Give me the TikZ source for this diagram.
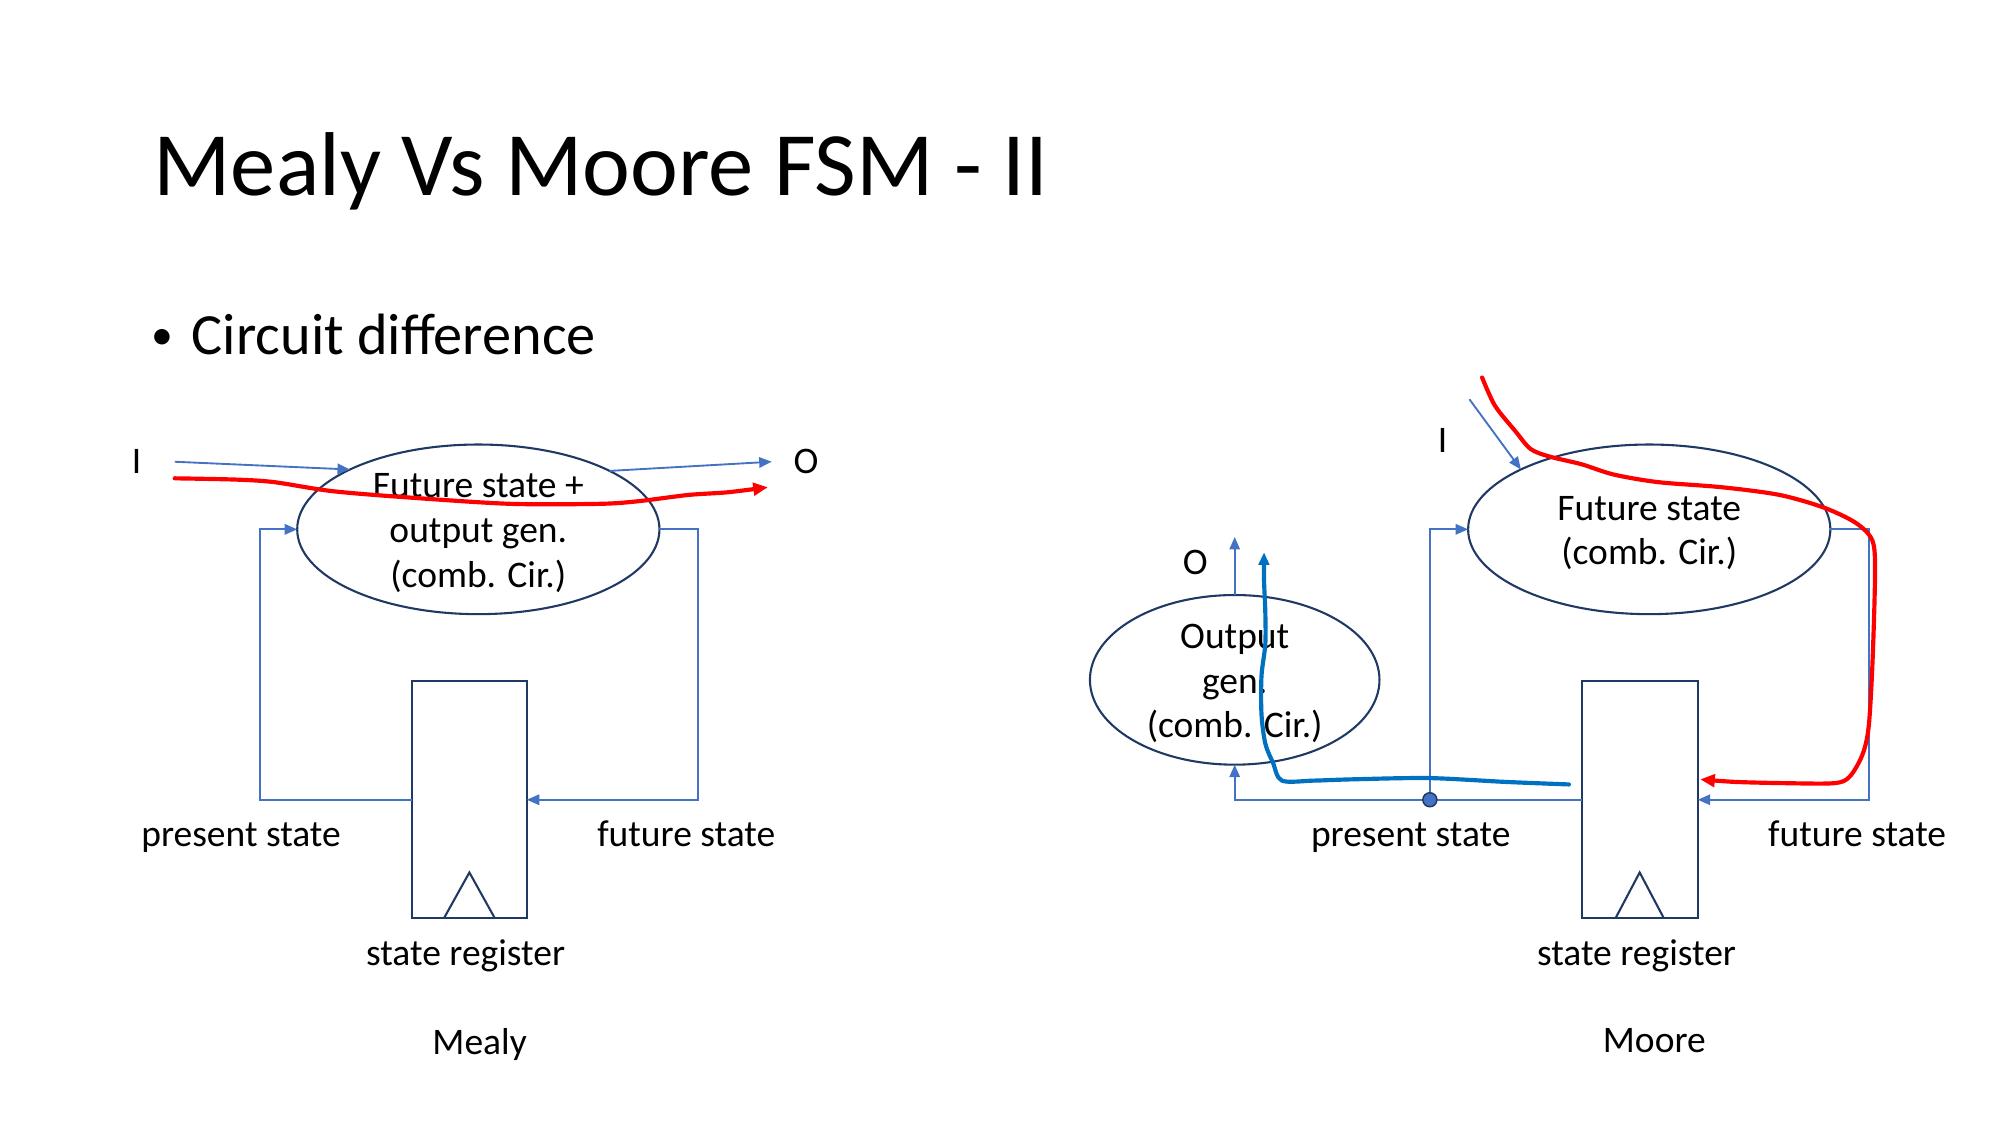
\documentclass[tikz,border=0pt]{standalone}
\usepackage{fontspec}
\setmainfont{Carlito}
\usetikzlibrary{shapes.geometric,arrows.meta}
\definecolor{cblue}{HTML}{4472C4}
\definecolor{navy}{HTML}{1F3864}
\definecolor{pen}{HTML}{0070C0}
\begin{document}
\begin{tikzpicture}[x=0.6122pt,y=-0.6122pt,
  every node/.style={font=\fontsize{18}{21.5}\selectfont, text=black},
  comb/.style={ellipse, draw=navy, line width=1pt, inner sep=0pt, outer sep=0pt},
  inside/.style={align=center, yshift=-1.8pt},
  reg/.style={rectangle, draw=navy, line width=1pt, inner sep=0pt, outer sep=0pt, minimum height=186*0.6122pt},
  conn/.style={draw=cblue, line width=0.9pt, -{Triangle[length=6pt,width=5pt]}},
  redink/.style={draw=red, line width=2pt, line cap=round, line join=round, -{Triangle[length=7pt,width=6pt]}},
  blueink/.style={draw=pen, line width=2pt, line cap=round, line join=round, -{Triangle[length=6pt,width=5pt]}},
  clock/.style={draw=navy, line width=1pt}
]
\useasboundingbox (0,0) rectangle (1568,882);

% title and bullet
\node[anchor=base west, inner sep=0pt, font=\fontsize{43.5}{52}\selectfont] (title) at (120,153) {Mealy Vs Moore FSM - II};
\node[anchor=base, inner sep=0pt, font=\fontsize{21}{25}\selectfont] (bul) at (127,274) {•};
\node[anchor=base west, inner sep=0pt, font=\fontsize{28}{34}\selectfont] (sub) at (150,278) {Circuit difference};

% ---------------- Mealy ----------------
\node[comb, minimum width=284*0.6122pt, minimum height=133*0.6122pt,
      label={[inside]center:{Future state +\\output gen.\\(comb. Cir.)}}] (fsm1) at (375,415) {};
\node[reg, minimum width=90*0.6122pt] (reg1) at (368,627) {};
\draw[clock] (reg1.south) ++(-20,0) -- ++(20,-36) -- ++(20,36);

\node (I1) at (107,362) {I};
\coordinate (in1) at (137,362);
\draw[conn] (in1) -- (fsm1.155);
\node (O1) at (632,362) {O};
\coordinate (out1) at (605,362);
\draw[conn] (fsm1.24) -- (out1);

\coordinate (pl1) at (204,415);
\coordinate (pr1) at (547,415);
\draw[conn] (reg1.west) -| (pl1) -- (fsm1.west);
\draw[conn] (fsm1.east) -- (pr1) |- (reg1.east);

\draw[redink] plot[smooth, tension=0.5] coordinates {(137,375) (185,376) (215,378) (260,385) (320,390) (400,395) (470,395) (500,393) (540,388) (570,386) (602,382)};

\node (ps1) at (189,657) {present state};
\node (fs1) at (538,654) {future state};
\node (sr1) at (365,749) {state register};
\node (mealy) at (376,819) {Mealy};

% ---------------- Moore ----------------
\node[comb, minimum width=284*0.6122pt, minimum height=133*0.6122pt,
      label={[inside]center:{Future state\\(comb. Cir.)}}] (fsm2) at (1293,415) {};
\node[comb, minimum width=227*0.6122pt, minimum height=133*0.6122pt,
      label={[inside]center:{Output\\gen.\\(comb. Cir.)}}] (og) at (968,533) {};
\node[reg, minimum width=91*0.6122pt] (reg2) at (1285.5,627) {};
\draw[clock] (reg2.south) ++(-19,0) -- ++(19,-36) -- ++(19,36);

\node (I2) at (1131,345) {I};
\coordinate (in2) at (1152,313);
\draw[conn] (in2) -- (fsm2.155);

\node (O2) at (937,441) {O};
\coordinate (out2) at (968,421);
\draw[conn] (og.north) -- (out2);

\coordinate (dot) at (1121,627);
\coordinate (pr2) at (1465,415);
\draw[conn] (reg2.west) -| (og.south);
\draw[conn] (dot) |- (fsm2.west);
\draw[conn] (fsm2.east) -- (pr2) |- (reg2.east);
\filldraw[fill=cblue, draw=navy, line width=0.7pt] (dot) circle[radius=5.5];

\draw[redink] plot[smooth, tension=0.5] coordinates {(1162,296) (1172,318) (1188,338) (1200,352) (1215,358) (1240,364) (1265,372) (1300,378) (1350,382) (1395,388) (1430,398) (1455,410) (1468,424) (1470,450) (1468,520) (1465,570) (1460,592) (1450,609) (1438,614) (1400,614) (1360,613) (1333,611)};

\draw[blueink] plot[smooth, tension=0.5] coordinates {(1230,615) (1180,613) (1120,610) (1060,611) (1030,612) (1005,612) (998,598) (992,583) (989,560) (989,530) (992,505) (992,480) (991,455) (991,433)};

\node (ps2) at (1106,657) {present state};
\node (fs2) at (1456,654) {future state};
\node (sr2) at (1283,749) {state register};
\node (moore) at (1297,816) {Moore};
\end{tikzpicture}
\end{document}
